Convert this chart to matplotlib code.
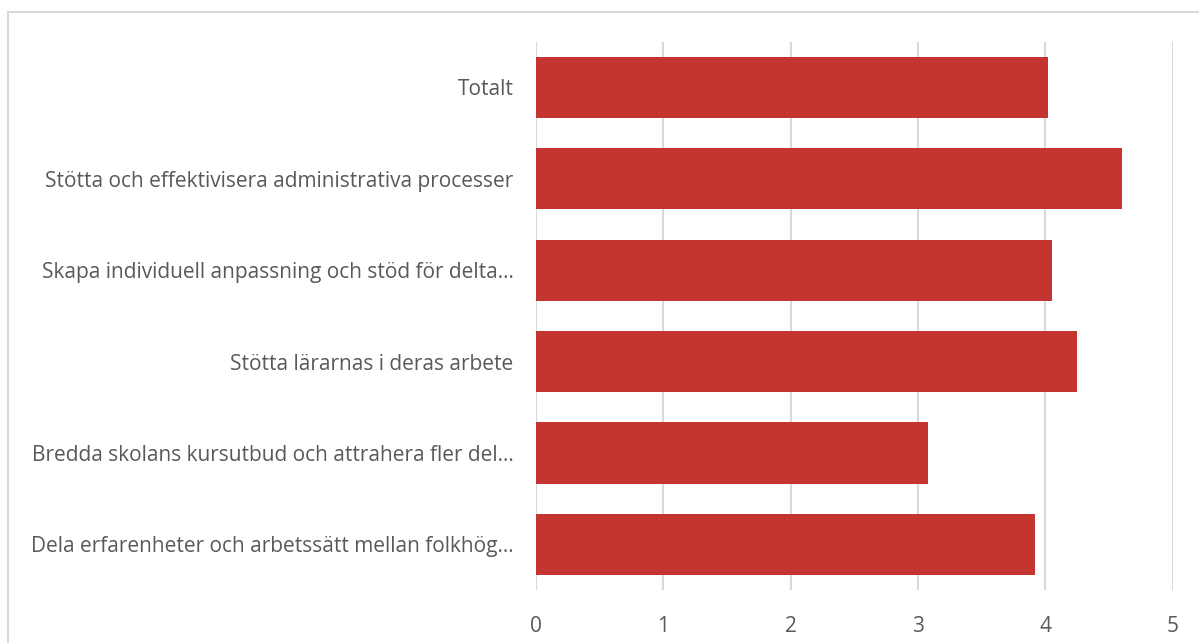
import matplotlib.pyplot as plt
from matplotlib.patches import Rectangle

categories = [
    "Totalt",
    "Stötta och effektivisera administrativa processer",
    "Skapa individuell anpassning och stöd för delta...",
    "Stötta lärarnas i deras arbete",
    "Bredda skolans kursutbud och attrahera fler del...",
    "Dela erfarenheter och arbetssätt mellan folkhög...",
]
values = [4.02, 4.60, 4.05, 4.25, 3.08, 3.92]
xticks = [0, 1, 2, 3, 4, 5]

plt.rcParams['font.family'] = ['Open Sans', 'DejaVu Sans']

fig = plt.figure(figsize=(11.99, 6.43), dpi=100)
ax = fig.add_axes([0.447, 0.0824, 0.531, 0.8526])

# frame around chart area (cut off at right and bottom like the screenshot)
fig.patches.append(Rectangle((8 / 1199, -0.1), 1.2, 1 - 12 / 643 + 0.1,
                             transform=fig.transFigure, fill=False,
                             edgecolor='#d9d9d9', linewidth=1.5))

pos = list(range(len(categories)))[::-1]
ax.barh(pos, values, height=0.67, color='#c23531', zorder=3)

ax.set_xlim(0, 5)
ax.set_ylim(-0.5, 5.5)
ax.set_xticks(xticks)
ax.set_yticks(pos)
ax.set_yticklabels(categories)
ax.grid(axis='x', color='#d9d9d9', linewidth=1.5, zorder=0)
for s in ax.spines.values():
    s.set_visible(False)
ax.tick_params(axis='both', length=0, colors='#595959', labelsize=15)
ax.tick_params(axis='y', pad=16)
ax.tick_params(axis='x', pad=19)

fig.savefig('out.png', dpi=100)
